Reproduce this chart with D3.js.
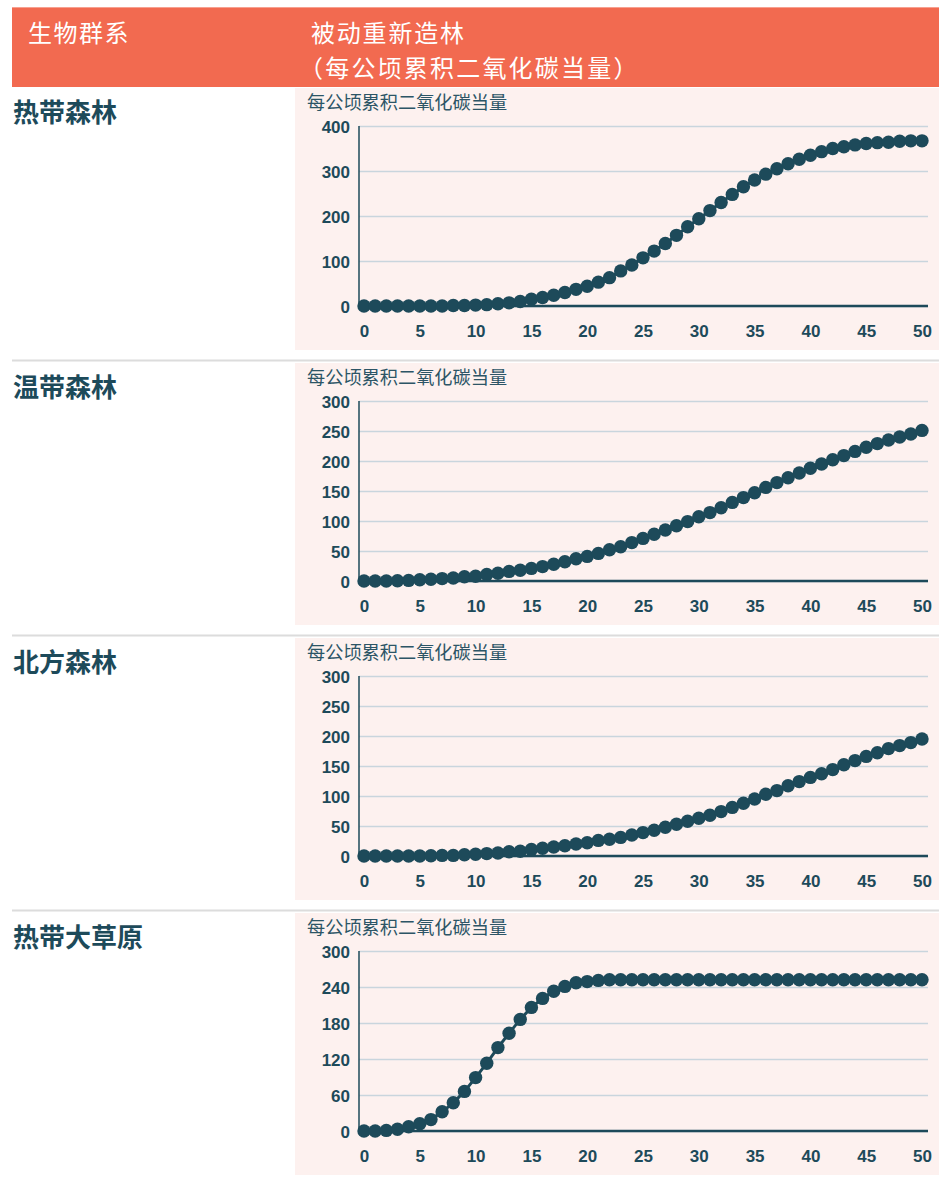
<!DOCTYPE html>
<html>
<head>
<meta charset="utf-8">
<script src="https://cdn.jsdelivr.net/npm/d3@7"></script>
<style>
  html, body { margin: 0; padding: 0; background: #ffffff; }
  svg { display: block; }
</style>
</head>
<body>
<svg id="chart" width="939" height="1177"></svg>
<script>
// ---------- DATA ----------
const headerLabels = ["生物群系", "被动重新造林", "（每公顷累积二氧化碳当量）"];
const biomes = ["热带森林", "温带森林", "北方森林", "热带大草原"];
const yAxisLabel = "每公顷累积二氧化碳当量";
const years = d3.range(0, 51);
const xTicks = [0, 5, 10, 15, 20, 25, 30, 35, 40, 45, 50];

const tropicalForest = [0,0,0,0,0,0,0,0,1,1,2,3,5,7,10,15,19,24,30,37,44,53,63,78,91,107,122,139,157,176,194,212,230,248,265,280,293,305,316,326,335,343,350,354,358,361,363,364,366,367,367];
const temperateForest = [0,0,0,0.5,1,2,3,4,5,7,8,11,13,16,18,21,24,28,32,37,41,46,52,57,64,71,78,85,92,99,107,114,122,131,139,147,156,164,172,180,188,195,202,209,216,223,229,235,240,245,251];
const borealForest = [0,0,0,0,0,0,0.5,1,1,2,3,4,5,7,8,11,13,15,17,20,22,26,28,31,35,39,43,48,53,58,63,68,74,81,88,95,103,109,117,124,131,137,144,152,159,166,172,179,184,189,195];
const tropicalSavanna = [0,0,1,3,7,12,19,32,47,66,89,113,139,163,186,206,221,233,241,247,249,251,252,252,252,252,252,252,252,252,252,252,252,252,252,252,252,252,252,252,252,252,252,252,252,252,252,252,252,252,252];

const yTicksTropical = [0, 100, 200, 300, 400];
const yTicksTemperate = [0, 50, 100, 150, 200, 250, 300];
const yTicksBoreal = [0, 50, 100, 150, 200, 250, 300];
const yTicksSavanna = [0, 60, 120, 180, 240, 300];

const seriesList = [tropicalForest, temperateForest, borealForest, tropicalSavanna];
const tickList = [yTicksTropical, yTicksTemperate, yTicksBoreal, yTicksSavanna];

// ---------- STYLE / LAYOUT ----------
const W = 939;
const ORANGE = "#F26A50";
const DARK = "#1D4A5A";
const PANEL_BG = "#FDF1EF";
const GRID = "#C9D5DD";
const SEP = "#DCDCDC";
const CJK = "'Noto Sans CJK SC', 'Noto Sans', sans-serif";
const NUM = "'Liberation Sans', Arial, sans-serif";

const svg = d3.select("#chart");

// Header
svg.append("rect").attr("x", 12).attr("y", 7).attr("width", W - 12).attr("height", 1).attr("fill", "#F7A090");
svg.append("rect").attr("x", 12).attr("y", 8).attr("width", W - 12).attr("height", 79).attr("fill", ORANGE);
svg.append("text").attr("x", 28).attr("y", 31).attr("dominant-baseline", "central")
  .attr("font-family", CJK).attr("font-size", 24).attr("letter-spacing", 1.5)
  .attr("fill", "#fff").text(headerLabels[0]);
const h2 = svg.append("text").attr("font-family", CJK).attr("font-size", 24).attr("fill", "#fff")
  .attr("dominant-baseline", "central");
h2.append("tspan").attr("x", 311).attr("y", 31).attr("letter-spacing", 1.8).text(headerLabels[1]);
h2.append("tspan").attr("x", 299).attr("y", 66).attr("letter-spacing", 2.2).text(headerLabels[2]);

const panelTops = [88, 363, 638, 913];
const panelH = 262;

const x = d3.scaleLinear().domain([0, 50]).range([364, 922]);

biomes.forEach((name, i) => {
  const t = panelTops[i];
  const ticks = tickList[i];
  const data = seriesList[i];
  const yMax = ticks[ticks.length - 1];
  const y = d3.scaleLinear().domain([0, yMax]).range([t + 218, t + 38]);

  if (i > 0) {
    svg.append("line").attr("x1", 12).attr("x2", W).attr("y1", t - 2.5).attr("y2", t - 2.5)
      .attr("stroke", SEP).attr("stroke-width", 2);
  }

  svg.append("rect").attr("x", 295).attr("y", t).attr("width", W - 295).attr("height", panelH)
    .attr("fill", PANEL_BG);

  svg.append("text").attr("x", 13).attr("y", t + 22).attr("dominant-baseline", "central")
    .attr("font-family", CJK).attr("font-weight", 700).attr("font-size", 26).attr("fill", DARK)
    .text(name);

  svg.append("text").attr("x", 307).attr("y", t + 13).attr("dominant-baseline", "central")
    .attr("font-family", CJK).attr("font-size", 18.2).attr("fill", "#2C5566")
    .text(yAxisLabel);

  const g = svg.append("g");

  const yAxis = d3.axisLeft(y).tickValues(ticks).tickSize(-(928 - 359)).tickPadding(9);
  const ga = g.append("g").attr("transform", "translate(359,0)").call(yAxis);
  ga.select(".domain").remove();
  ga.selectAll(".tick line").attr("stroke", GRID).attr("stroke-width", 1.5);
  ga.selectAll(".tick text").attr("font-family", NUM).attr("font-weight", 700)
    .attr("font-size", 17).attr("fill", DARK).attr("dy", "0.4em");

  g.append("line").attr("x1", 359).attr("x2", 359).attr("y1", y(yMax)).attr("y2", y(0))
    .attr("stroke", DARK).attr("stroke-width", 1.5);

  const xAxis = d3.axisBottom(x).tickValues(xTicks).tickSize(0).tickPadding(0);
  const gx = g.append("g").attr("transform", `translate(0,${y(0)})`).call(xAxis);
  gx.select(".domain").remove();
  gx.selectAll(".tick text").attr("font-family", NUM).attr("font-weight", 700)
    .attr("font-size", 17).attr("fill", DARK).attr("dy", null)
    .attr("y", 25.5).attr("dominant-baseline", "central");
  g.append("line").attr("x1", 359).attr("x2", 928).attr("y1", y(0)).attr("y2", y(0))
    .attr("stroke", DARK).attr("stroke-width", 2.5);

  const line = d3.line().x((d, j) => x(years[j])).y(d => y(d));
  g.append("path").datum(data).attr("d", line).attr("fill", "none")
    .attr("stroke", DARK).attr("stroke-width", 3);
  g.selectAll("circle.pt").data(data).join("circle").attr("class", "pt")
    .attr("cx", (d, j) => x(years[j])).attr("cy", d => y(d)).attr("r", 6.7)
    .attr("fill", DARK);
});
</script>
</body>
</html>
